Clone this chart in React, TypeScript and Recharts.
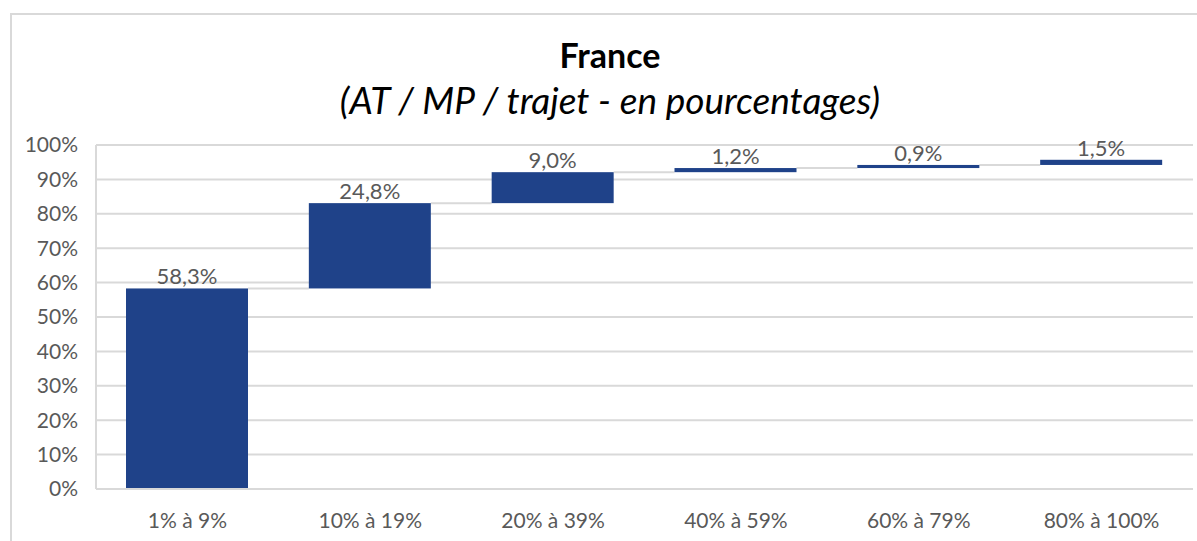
import { BarChart, Bar, XAxis, YAxis, CartesianGrid, LabelList } from 'recharts';

const categories = ['1% à 9%', '10% à 19%', '20% à 39%', '40% à 59%', '60% à 79%', '80% à 100%'];
const values = [58.3, 24.8, 9.0, 1.2, 0.9, 1.5];
const yTicks = [0, 10, 20, 30, 40, 50, 60, 70, 80, 90, 100];

const W = 1197;
const H = 541;
const MARGIN = { top: 145, right: 4, bottom: 0, left: 0 };
const Y_AXIS_W = 96;
const BAR_SIZE = 122;
const BAR_COLOR = '#1F4289';
const GRID = '#d9d9d9';
const TEXT = '#595959';
const FONT = 'Lato, "Open Sans", sans-serif';

// floating bars: each one starts where the previous one ended
let running = 0;
const data = categories.map((name, i) => {
  const start = running;
  running += values[i];
  return { name, value: values[i], range: [start, running] };
});

const band = (W - MARGIN.left - MARGIN.right - Y_AXIS_W) / categories.length;
const gap = band - BAR_SIZE;

const fmt = (v: number) => `${v.toFixed(1).replace('.', ',')}%`;

const WaterfallBar = (props: any) => {
  const { x, y, width, height, index } = props;
  return (
    <g>
      {index < categories.length - 1 && (
        <line x1={x + width} x2={x + width + gap} y1={y} y2={y} stroke={GRID} strokeWidth={2} />
      )}
      <rect x={x} y={y} width={width} height={Math.max(height, 1)} fill={BAR_COLOR} />
    </g>
  );
};

export default function App() {
  return (
    <div style={{ position: 'absolute', left: 0, top: 0, width: W, height: H, background: '#fff', overflow: 'hidden', fontFamily: FONT }}>
      <div
        style={{
          position: 'absolute',
          left: 10,
          top: 13,
          width: W,
          height: H,
          borderLeft: `2px solid ${GRID}`,
          borderTop: `2px solid ${GRID}`,
        }}
      />
      <div style={{ position: 'absolute', left: 0, width: 1220, top: 34, lineHeight: '42px', textAlign: 'center', fontSize: 34, fontWeight: 700, color: '#000' }}>
        France
      </div>
      <div style={{ position: 'absolute', left: 0, width: 1220, top: 78, lineHeight: '44px', textAlign: 'center', fontSize: 37, fontStyle: 'italic', color: '#000' }}>
        (AT / MP / trajet - en pourcentages)
      </div>
      <div style={{ position: 'absolute', left: 0, top: 0 }}>
        <BarChart width={W} height={H} data={data} margin={MARGIN}>
          <CartesianGrid vertical={false} stroke={GRID} strokeWidth={2} />
          <XAxis
            dataKey="name"
            height={52}
            axisLine={{ stroke: GRID, strokeWidth: 2 }}
            tickLine={false}
            tickSize={0}
            tickMargin={24}
            tick={{ fill: TEXT, fontSize: 21, fontFamily: FONT }}
          />
          <YAxis
            width={Y_AXIS_W}
            domain={[0, 100]}
            ticks={yTicks}
            interval={0}
            tickFormatter={(v: number) => `${v}%`}
            axisLine={{ stroke: GRID, strokeWidth: 2 }}
            tickLine={false}
            tickSize={0}
            tickMargin={18}
            tick={{ fill: TEXT, fontSize: 21, fontFamily: FONT }}
          />
          <Bar dataKey="range" barSize={BAR_SIZE} shape={WaterfallBar} isAnimationActive={false}>
            <LabelList
              dataKey="value"
              position="top"
              offset={4}
              formatter={(v: any) => fmt(Number(v))}
              fill={TEXT}
              fontSize={22}
              fontFamily={FONT}
            />
          </Bar>
        </BarChart>
      </div>
    </div>
  );
}
